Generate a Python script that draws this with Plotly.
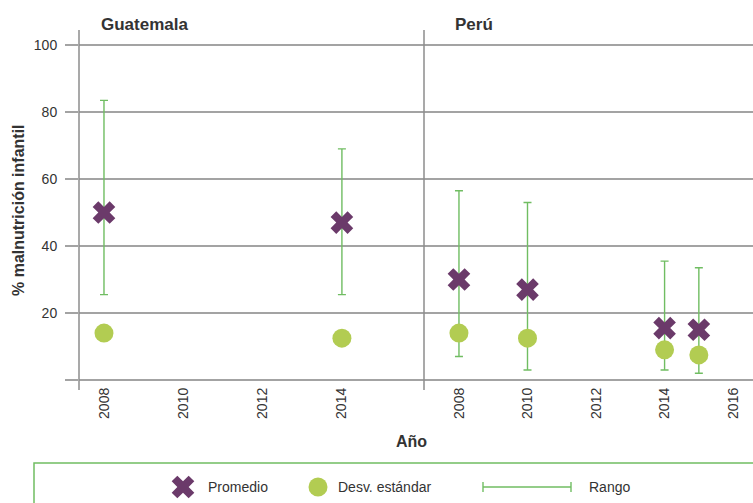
import plotly.graph_objects as go

W, H = 753, 503

# Child malnutrition summary statistics by survey year
gt_years = [2008, 2014]
gt_mean = [50, 47]
gt_sd = [14, 12.5]
gt_min = [25.5, 25.5]
gt_max = [83.5, 69]

pe_years = [2008, 2010, 2014, 2015]
pe_mean = [30, 27, 15.5, 15]
pe_sd = [14, 12.5, 9, 7.5]
pe_min = [7, 3, 3, 2]
pe_max = [56.5, 53, 35.5, 33.5]

y_tickvals = [0, 20, 40, 60, 80, 100]
y_ticktext = ["", "20", "40", "60", "80", "100"]
gt_xticks = [2008, 2010, 2012, 2014]
pe_xticks = [2008, 2010, 2012, 2014, 2016]

PURPLE = "#6b3a6a"
DOT = "#b2cc52"
RANGE = "#70bd62"
GRID = "#a3a3a3"
TEXT = "#333333"
FONT = "Liberation Sans, Arial, sans-serif"


def px(x):
    return x / W


def py(y):
    return 1 - y / H


fig = go.Figure()


def add_panel(years, mean, sd, lo, hi, xa, ya):
    fig.add_trace(go.Scatter(
        x=years, y=mean, mode="markers", xaxis=xa, yaxis=ya,
        marker=dict(opacity=0, size=1), showlegend=False, hoverinfo="skip",
        error_y=dict(type="data", symmetric=False,
                     array=[h - m for h, m in zip(hi, mean)],
                     arrayminus=[m - l for m, l in zip(mean, lo)],
                     color=RANGE, thickness=1.4, width=4),
    ))
    fig.add_trace(go.Scatter(
        x=years, y=mean, mode="markers", xaxis=xa, yaxis=ya, name="Promedio",
        marker=dict(symbol="x", size=20, color=PURPLE, line=dict(width=0)),
        showlegend=False,
    ))
    fig.add_trace(go.Scatter(
        x=years, y=sd, mode="markers", xaxis=xa, yaxis=ya, name="Desv. estándar",
        marker=dict(symbol="circle", size=19, color=DOT, line=dict(width=0)),
        showlegend=False,
    ))


add_panel(gt_years, gt_mean, gt_sd, gt_min, gt_max, "x", "y")
add_panel(pe_years, pe_mean, pe_sd, pe_min, pe_max, "x2", "y2")

# Legend glyphs on a pixel-space overlay axis
fig.add_trace(go.Scatter(
    x=[183], y=[487], mode="markers", xaxis="x3", yaxis="y3",
    marker=dict(symbol="x", size=20, color=PURPLE, line=dict(width=0)),
    showlegend=False, hoverinfo="skip",
))
fig.add_trace(go.Scatter(
    x=[318], y=[487], mode="markers", xaxis="x3", yaxis="y3",
    marker=dict(symbol="circle", size=19, color=DOT, line=dict(width=0)),
    showlegend=False, hoverinfo="skip",
))

y_dom = [py(380), py(30)]
y_range = [0, 104.5]
tickfont = dict(family=FONT, size=14, color=TEXT)

fig.update_layout(
    width=W, height=H,
    margin=dict(l=0, r=0, t=0, b=0),
    paper_bgcolor="white", plot_bgcolor="rgba(0,0,0,0)",
    xaxis=dict(domain=[px(79), px(424)], range=[2007.37, 2016.07],
               tickvals=gt_xticks, tickangle=-90, ticks="", showgrid=False,
               zeroline=False, showline=False, tickfont=tickfont, anchor="y",
               ticklabelstandoff=4),
    yaxis=dict(domain=y_dom, range=y_range, tickvals=y_tickvals, ticktext=y_ticktext,
               ticks="outside", ticklen=13, tickwidth=1.5, tickcolor=GRID,
               showgrid=True, gridcolor=GRID, gridwidth=1.5,
               zeroline=True, zerolinecolor=GRID, zerolinewidth=1.5,
               showline=False, tickfont=tickfont, anchor="x",
               ticklabelstandoff=5),
    xaxis2=dict(domain=[px(424), 1], range=[2006.98, 2016.58],
                tickvals=pe_xticks, tickangle=-90, ticks="", showgrid=False,
                zeroline=False, showline=False, tickfont=tickfont, anchor="y2",
                ticklabelstandoff=4),
    yaxis2=dict(domain=y_dom, range=y_range, tickvals=y_tickvals,
                showticklabels=False, ticks="",
                showgrid=True, gridcolor=GRID, gridwidth=1.5,
                zeroline=True, zerolinecolor=GRID, zerolinewidth=1.5,
                showline=False, anchor="x2"),
    xaxis3=dict(domain=[0, 1], range=[0, W], visible=False, fixedrange=True, anchor="y3"),
    yaxis3=dict(domain=[0, 1], range=[H, 0], visible=False, fixedrange=True, anchor="x3"),
)

shapes = []
for xv in (79, 424):
    shapes.append(dict(type="line", xref="paper", yref="paper",
                       x0=px(xv), x1=px(xv), y0=py(30), y1=py(390),
                       line=dict(color="#8c8c8c", width=1.5)))
# legend frame
shapes.append(dict(type="rect", xref="paper", yref="paper",
                   x0=px(34), x1=1.01, y0=-0.05, y1=py(463),
                   line=dict(color=RANGE, width=1.5)))
# range legend glyph
shapes.append(dict(type="line", xref="paper", yref="paper",
                   x0=px(483), x1=px(571), y0=py(487), y1=py(487),
                   line=dict(color=RANGE, width=1.4)))
for xv in (483, 571):
    shapes.append(dict(type="line", xref="paper", yref="paper",
                       x0=px(xv), x1=px(xv), y0=py(482), y1=py(492),
                       line=dict(color=RANGE, width=1.4)))
fig.update_layout(shapes=shapes)

ann = []
ann.append(dict(text="<b>Guatemala</b>", x=px(99), y=py(25), xref="paper", yref="paper",
                xanchor="left", yanchor="middle", showarrow=False,
                font=dict(family=FONT, size=17, color=TEXT)))
ann.append(dict(text="<b>Perú</b>", x=px(453), y=py(25), xref="paper", yref="paper",
                xanchor="left", yanchor="middle", showarrow=False,
                font=dict(family=FONT, size=17, color=TEXT)))
ann.append(dict(text="<b>% malnutrición infantil</b>", x=px(18), y=py(210),
                xref="paper", yref="paper", textangle=-90, showarrow=False,
                xanchor="center", yanchor="middle",
                font=dict(family=FONT, size=16, color=TEXT)))
ann.append(dict(text="<b>Año</b>", x=px(412), y=py(441), xref="paper", yref="paper",
                xanchor="center", yanchor="middle", showarrow=False,
                font=dict(family=FONT, size=16, color=TEXT)))
for label, xv in (("Promedio", 206), ("Desv. estándar", 336), ("Rango", 587)):
    ann.append(dict(text=label, x=px(xv), y=py(487), xref="paper", yref="paper",
                    xanchor="left", yanchor="middle", showarrow=False,
                    font=dict(family=FONT, size=14, color=TEXT)))
fig.update_layout(annotations=ann)

fig.write_html("out.html")
